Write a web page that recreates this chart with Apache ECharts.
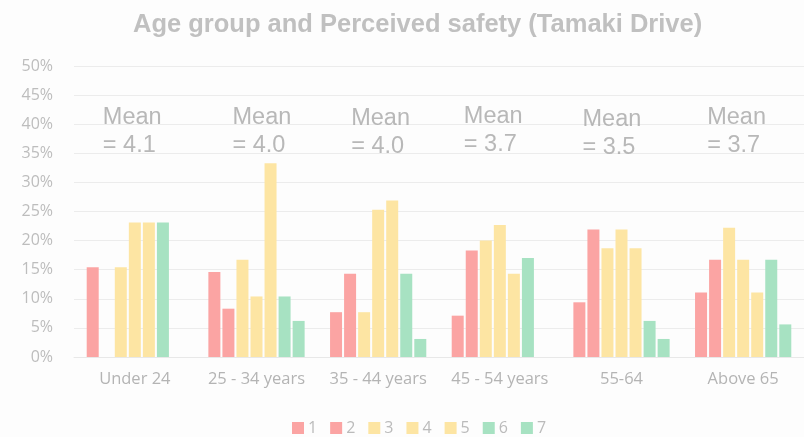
<!DOCTYPE html>
<html>
<head>
<meta charset="utf-8" />
<title>Age group and Perceived safety</title>
<script src="https://cdn.jsdelivr.net/npm/echarts@6/dist/echarts.min.js"></script>
<style>
  html, body { margin: 0; padding: 0; background: #fdfdfd; }
  #main { width: 804px; height: 437px; }
</style>
</head>
<body>
<div id="main"></div>
<script type="text/javascript">
// categories and answer shares (% of respondents per age group)
var ageGroups = ['Under 24', '25 - 34 years', '35 - 44 years', '45 - 54 years', '55-64', 'Above 65'];
var score1 = [15.4, 14.6, 7.7, 7.1, 9.4, 11.1];
var score2 = [0, 8.3, 14.3, 18.3, 21.9, 16.7];
var score3 = [15.4, 16.7, 7.7, 20.0, 18.7, 22.2];
var score4 = [23.1, 10.4, 25.3, 22.7, 21.9, 16.7];
var score5 = [23.1, 33.3, 26.9, 14.3, 18.7, 11.1];
var score6 = [23.1, 10.4, 14.3, 17.0, 6.2, 16.7];
var score7 = [0, 6.2, 3.1, 0, 3.1, 5.6];
var means = ['4.1', '4.0', '4.0', '3.7', '3.5', '3.7'];
var yTicks = [0, 5, 10, 15, 20, 25, 30, 35, 40, 45, 50];

var red = '#fba4a3', yellow = '#fde5a3', green = '#a7e2c2';
var scoreSeries = [
    { name: '1', data: score1, color: red },
    { name: '2', data: score2, color: red },
    { name: '3', data: score3, color: yellow },
    { name: '4', data: score4, color: yellow },
    { name: '5', data: score5, color: yellow },
    { name: '6', data: score6, color: green },
    { name: '7', data: score7, color: green }
];

// where the "Mean" notes sit relative to the group centre (px)
var meanOffsets = [[-32, 0], [-24, 0], [-27, 1], [-36, -1], [-39, 2], [-36, 0]];

var myChart = echarts.init(document.getElementById('main'));

var series = scoreSeries.map(function (s) {
    return {
        name: s.name,
        type: 'bar',
        data: s.data,
        barWidth: 12,
        barGap: '17%',
        itemStyle: { color: s.color },
        emphasis: { disabled: true }
    };
});

series.push({
    name: 'mean',
    type: 'scatter',
    symbolSize: 0,
    silent: true,
    data: means.map(function (m, i) {
        return {
            value: [i, 40],
            label: { offset: [meanOffsets[i][0], 7 + meanOffsets[i][1]] },
            mean: m
        };
    }),
    label: {
        show: true,
        position: 'inside',
        align: 'left',
        verticalAlign: 'middle',
        fontFamily: 'Liberation Sans, Arial, sans-serif',
        fontSize: 23.5,
        lineHeight: 28,
        color: '#a6a6a6',
        formatter: function (p) {
            return 'Mean\n= ' + p.data.mean;
        }
    }
});

var option = {
    backgroundColor: '#fdfdfd',
    animation: false,
    title: {
        text: 'Age group and Perceived safety (Tamaki Drive)',
        left: 133,
        top: 12,
        padding: 0,
        textStyle: {
            fontFamily: 'Liberation Sans, Arial, sans-serif',
            fontWeight: 'bold',
            fontSize: 25.5,
            color: '#c0c0c0'
        }
    },
    legend: {
        data: ['1', '2', '3', '4', '5', '6', '7'],
        left: 287,
        top: 415,
        itemWidth: 12,
        itemHeight: 12,
        itemGap: 13,
        icon: 'rect',
        textStyle: {
            fontFamily: 'Open Sans, sans-serif',
            fontSize: 16,
            color: '#bbbbbb',
            padding: [0, 0, 0, -1]
        }
    },
    grid: {
        left: 74,
        right: -4,
        top: 66,
        bottom: 80
    },
    xAxis: {
        type: 'category',
        data: ageGroups,
        axisLine: { lineStyle: { color: '#e8e8e8' } },
        axisTick: { show: false },
        axisLabel: {
            interval: 0,
            margin: 14,
            fontFamily: 'Open Sans, sans-serif',
            fontSize: 16.5,
            color: '#b4b4b4'
        }
    },
    yAxis: {
        type: 'value',
        min: yTicks[0],
        max: yTicks[yTicks.length - 1],
        interval: 5,
        axisLine: { show: false },
        axisTick: { show: false },
        splitLine: { lineStyle: { color: '#ececec' } },
        axisLabel: {
            margin: 21,
            fontFamily: 'Open Sans, sans-serif',
            fontSize: 16,
            color: '#bdbdbd',
            formatter: '{value}%'
        }
    },
    series: series
};

myChart.setOption(option);
</script>
</body>
</html>
